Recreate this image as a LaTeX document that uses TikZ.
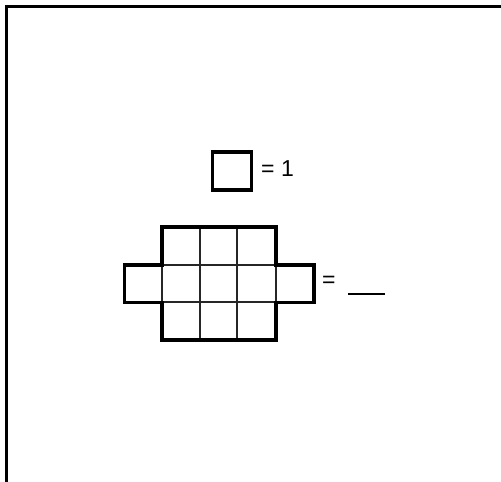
\documentclass[tikz,border=0pt]{standalone}
\usepackage{fontspec}
\setmainfont{Liberation Sans}
\usetikzlibrary{positioning}
\begin{document}
\begin{tikzpicture}[x=1pt, y=-1pt,
				outer/.style={line width=3.6pt, line join=miter},
				inner/.style={line width=2pt, color=black!85},
				font=\fontsize{23}{27}\selectfont, scale=1]
				%Bildbereich festlegen
				\useasboundingbox (0,0) rectangle (501,482);
				% Rahmen zeichnen
				\draw[line width=3pt] (6,482) -- (6,6) -- (501,6);
				% Einheitsquadrat
				\node[draw, outer, minimum width=39pt, minimum height=38pt, inner sep=0pt] (unit) at (232,171) {};
				\node[anchor=west, inner sep=0pt] (unitval) at (261,169) {= 1};
				% Raster innen
				\foreach \x in {199.7,237.4} \draw[inner] (\x,227) -- (\x,340);
				\foreach \x in {162,276} \draw[inner] (\x,264.7) -- (\x,302.4);
				\foreach \y in {264.7,302.4} \draw[inner] (162,\y) -- (276,\y);
				% Umriss
				\draw[outer] (162,227) -- (276,227) -- (276,264.7) -- (314,264.7) -- (314,302.4)
					-- (276,302.4) -- (276,340) -- (162,340) -- (162,302.4) -- (124.5,302.4)
					-- (124.5,264.7) -- (162,264.7) -- cycle;
				% Beschriftung
				\node[anchor=west, inner sep=0pt] (eqsign) at (322,282) {=};
				\coordinate (blankA) at (348,294);
				\coordinate (blankB) at (385,294);
				\draw[line width=2.4pt] (blankA) -- (blankB);
			\end{tikzpicture}
\end{document}
